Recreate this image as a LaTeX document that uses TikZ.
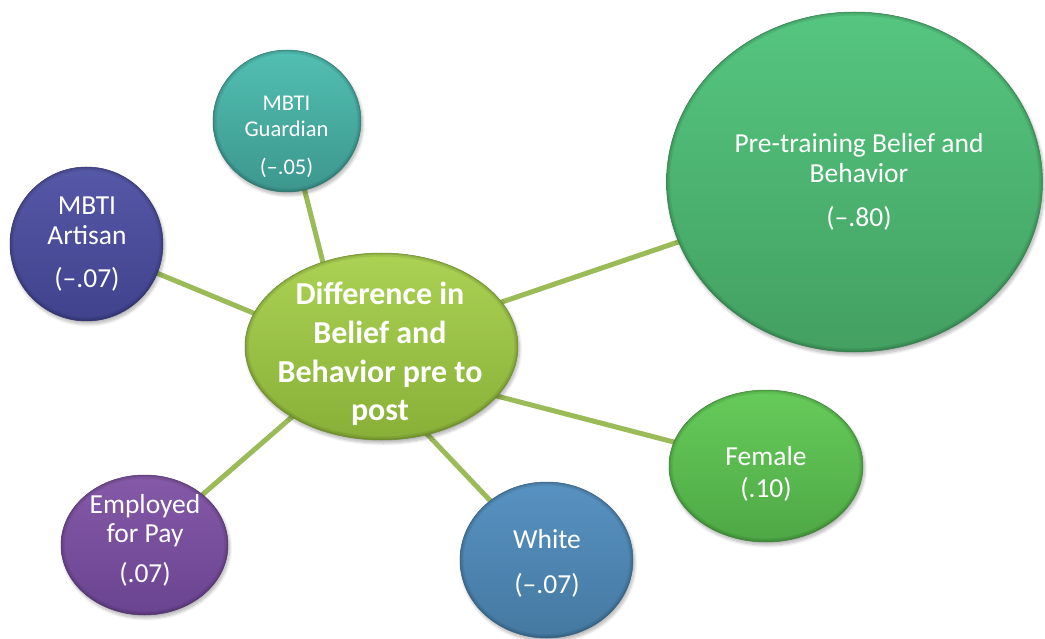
\documentclass[tikz,border=0pt]{standalone}
\usepackage{fontspec}
\setmainfont{Carlito}
\usetikzlibrary{shapes.geometric,shadows.blur,backgrounds,calc}

\definecolor{spoke}{HTML}{9BBB59}
\definecolor{hubA}{HTML}{ABD253}   \definecolor{hubB}{HTML}{88B038}
\definecolor{preA}{HTML}{55C680}   \definecolor{preB}{HTML}{43A061}
\definecolor{guardA}{HTML}{52BFB2} \definecolor{guardB}{HTML}{3C978E}
\definecolor{artA}{HTML}{5658A8}   \definecolor{artB}{HTML}{40428C}
\definecolor{empA}{HTML}{8559A8}   \definecolor{empB}{HTML}{6A4490}
\definecolor{whiteA}{HTML}{5892C2} \definecolor{whiteB}{HTML}{4479A1}
\definecolor{femA}{HTML}{66CB5A}   \definecolor{femB}{HTML}{4EA845}

\tikzset{
  x=1pt, y=-1pt,
  % soft darker band just inside the rim of a bubble
  rimshade/.style={path picture={
    \draw[line width=7pt, black, opacity=0.08]
      let \p1=($(path picture bounding box.north east)-(path picture bounding box.south west)$) in
      (path picture bounding box.center) ellipse [x radius=0.5*\x1, y radius=0.5*\y1];
    \draw[line width=3pt, black, opacity=0.10]
      let \p1=($(path picture bounding box.north east)-(path picture bounding box.south west)$) in
      (path picture bounding box.center) ellipse [x radius=0.5*\x1, y radius=0.5*\y1];
  }},
  bubble/.style 2 args={ellipse, inner sep=0pt, outer sep=0pt,
    top color=#1, bottom color=#2, draw=#2!80!black, line width=0.5pt, rimshade,
    blur shadow={shadow xshift=1.5pt, shadow yshift=-3pt,
      shadow blur radius=3pt, shadow blur steps=8, shadow opacity=30}},
  spokeline/.style={draw=spoke, line width=5pt},
  txt/.style={text=white, anchor=base, inner sep=0pt, outer sep=0pt,
    font=\fontsize{27.5}{30}\selectfont},
  smalltxt/.style={txt, font=\fontsize{22.5}{26}\selectfont},
  hubtxt/.style={txt, font=\fontsize{32}{38}\selectfont\bfseries},
}

\begin{document}
\begin{tikzpicture}
\useasboundingbox (0,0) rectangle (1045,639);

% bubbles
\node[bubble={hubA}{hubB}, minimum width=273pt, minimum height=187pt] (hub) at (381.5,346.5) {};
\node[bubble={preA}{preB}, minimum width=376pt, minimum height=340pt] (pre) at (854.5,182) {};
\node[bubble={guardA}{guardB}, minimum width=148pt, minimum height=142pt] (guard) at (287,121) {};
\node[bubble={artA}{artB}, minimum width=153pt, minimum height=154pt] (art) at (86.5,244) {};
\node[bubble={empA}{empB}, minimum width=167pt, minimum height=140pt] (emp) at (144.5,545) {};
\node[bubble={whiteA}{whiteB}, minimum width=173pt, minimum height=156pt] (white) at (546.5,560) {};
\node[bubble={femA}{femB}, minimum width=194pt, minimum height=152pt] (fem) at (766,466) {};

% spokes behind the bubbles
\begin{scope}[on background layer]
  \draw[spokeline] (guard.center) -- ($(hub.center)+(-34.5,10.5)$);
  \draw[spokeline] (art.center) -- ($(hub.center)+(0,19.5)$);
  \draw[spokeline] (pre.center) -- ($(hub.center)+(0,-3.5)$);
  \draw[spokeline] (fem.center) -- ($(hub.center)+(0,19.5)$);
  \draw[spokeline] (emp.center) -- ($(hub.center)+(-20.5,10.5)$);
  \draw[spokeline] (white.center) -- ($(hub.center)+(-27.5,10.5)$);
\end{scope}

% labels
\node[hubtxt] (hub1) at (380,305) {Difference in};
\node[hubtxt] (hub2) at (380,343) {Belief and};
\node[hubtxt] (hub3) at (380,382) {Behavior pre to};
\node[hubtxt] (hub4) at (380,420) {post};

\node[txt] (pre1) at (859,153) {Pre-training Belief and};
\node[txt] (pre2) at (859,183) {Behavior};
\node[txt] (pre3) at (859,227) {(–.80)};

\node[smalltxt] (guard1) at (286.5,111) {MBTI};
\node[smalltxt] (guard2) at (286.5,137) {Guardian};
\node[smalltxt] (guard3) at (286.5,175) {(–.05)};

\node[txt] (art1) at (87,215) {MBTI};
\node[txt] (art2) at (87,245) {Artisan};
\node[txt] (art3) at (87,288) {(–.07)};

\node[txt] (emp1) at (145,513) {Employed};
\node[txt] (emp2) at (145,542) {for Pay};
\node[txt] (emp3) at (145,582) {(.07)};

\node[txt] (white1) at (547,548) {White};
\node[txt] (white2) at (547,593) {(–.07)};

\node[txt] (fem1) at (766,465) {Female};
\node[txt] (fem2) at (766,497) {(.10)};
\end{tikzpicture}
\end{document}
